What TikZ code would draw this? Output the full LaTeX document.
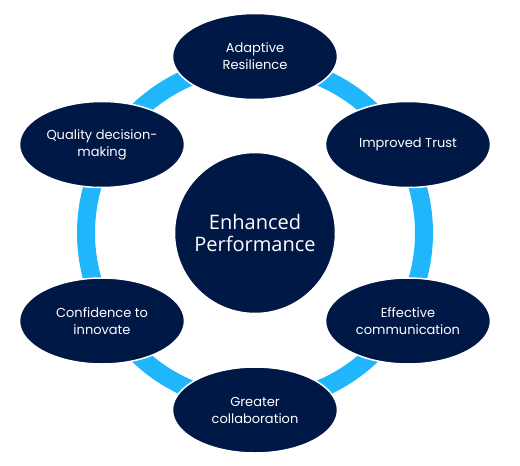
\documentclass[tikz,border=0pt]{standalone}
\usepackage{fontspec}
\setmainfont{Poppins}
\newfontfamily\centerfont{Open Sans}
\usetikzlibrary{shapes.geometric}
\definecolor{navy}{RGB}{0,24,70}
\definecolor{ringblue}{RGB}{32,182,252}
\begin{document}
\begin{tikzpicture}[x=1pt,y=-1pt,
  petal/.style={ellipse,fill=navy,draw=white,line width=1.5pt,minimum width=165pt,minimum height=86pt,inner sep=0pt,text=white,align=center,font=\fontsize{13pt}{17pt}\selectfont},
  hub/.style={circle,fill=navy,draw=white,line width=1.5pt,minimum size=161pt,inner sep=0pt,text=white,align=center,font=\centerfont\fontsize{20pt}{22pt}\selectfont}]
\useasboundingbox (0,0) rectangle (520,466);
\coordinate (c) at (255,233);
\draw[ringblue,line width=18pt] (c) circle[radius=169];
\node[hub] (center) at (c) {Enhanced\\Performance};
\node[petal] (adapt) at (255,56.5) {Adaptive\\Resilience};
\node[petal] (trust) at (408,144.5) {Improved Trust};
\node[petal] (comm) at (408,321) {Effective\\communication};
\node[petal] (collab) at (255,410) {Greater\\collaboration};
\node[petal] (innov) at (102,321) {Confidence to\\innovate};
\node[petal] (qual) at (102,144.5) {Quality decision-\\making};
\end{tikzpicture}
\end{document}
